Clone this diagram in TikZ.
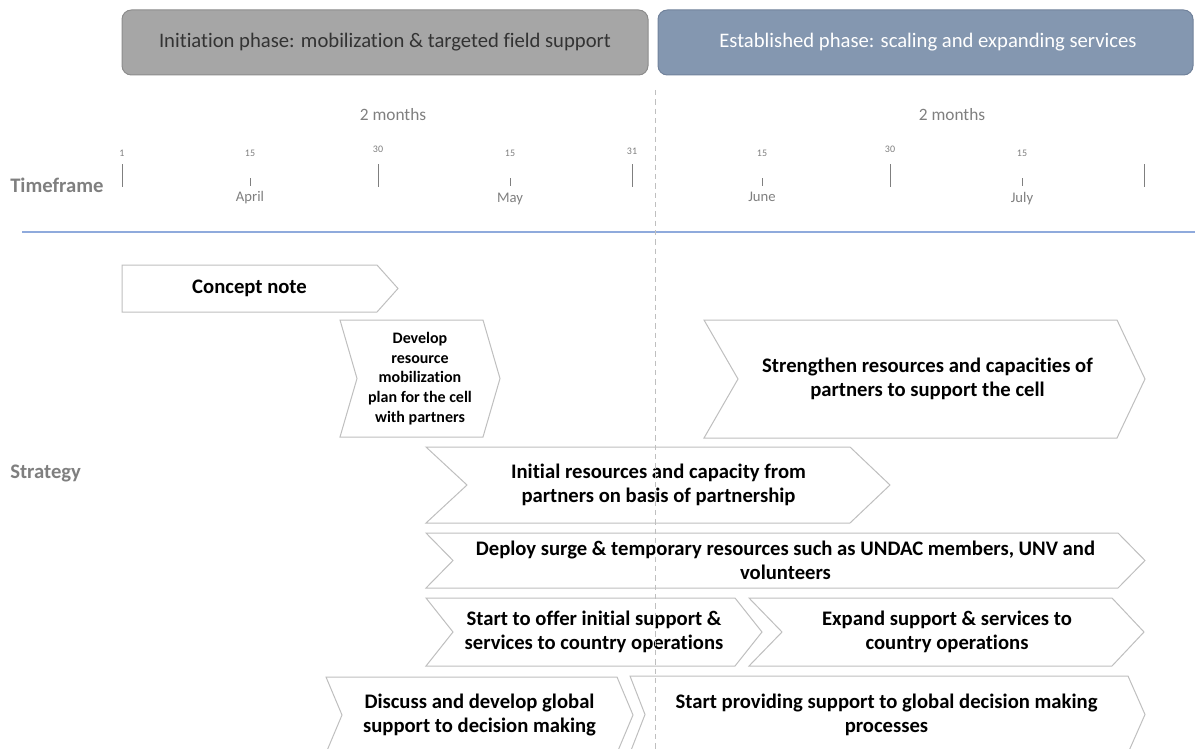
\documentclass[tikz,border=0pt]{standalone}
\usepackage{fontspec}
\setmainfont{Carlito}[Ligatures=NoCommon]
\usetikzlibrary{positioning}

\definecolor{initfill}{HTML}{A6A6A6}
\definecolor{initline}{HTML}{8C8C8C}
\definecolor{estfill}{HTML}{8497B0}
\definecolor{estline}{HTML}{71829B}
\definecolor{labelgray}{HTML}{7F7F7F}
\definecolor{chevline}{HTML}{BFBFBF}
\definecolor{axisblue}{HTML}{8FAADC}

\tikzset{
phase/.style={rounded corners=7pt, line width=0.75pt},
phasetext/.style={font=\fontsize{15.5}{18}\selectfont},
rowlabel/.style={font=\bfseries\fontsize{15.5}{18}\selectfont, text=labelgray, anchor=west, inner sep=0pt},
spanlabel/.style={font=\fontsize{13}{15}\selectfont, text=labelgray},
daylabel/.style={font=\fontsize{7.5}{9}\selectfont, text=labelgray, inner sep=1pt},
monthlabel/.style={font=\fontsize{11}{13}\selectfont, text=labelgray, inner sep=1pt},
daytick/.style={draw=labelgray, line width=0.6pt},
axisline/.style={draw=axisblue, line width=1.1pt},
phasesplit/.style={draw=chevline, line width=0.75pt, dash pattern=on 4pt off 3pt},
chev/.style={draw=chevline, fill=white, line width=0.75pt, line join=miter},
chevtext/.style={font=\bfseries\fontsize{15.5}{18}\selectfont, align=center, inner sep=0pt}
}

% chevron: [text style], name, left x, notch, right x, tip x, top y, bottom y, text
\newcommand{\chevronbox}[9][]{%
\draw[chev] (#3,#7) -- (#5,#7) -- (#6,{(#7+#8)/2}) -- (#5,#8) -- (#3,#8) -- ({#3+#4},{(#7+#8)/2}) -- cycle;
\node[chevtext,#1] (#2) at ({(#3+#4+#5)/2},{(#7+#8)/2}) {#9};}

\begin{document}
\begin{tikzpicture}[x=0.75pt,y=-0.75pt]
\useasboundingbox (0,0) rectangle (1195,749);

% phases
\draw[phase, fill=initfill, draw=initline] (122,10) rectangle (648,75);
\node[phasetext, text=black!80] (initphase) at (385,42) {Initiation phase: mobilization \& targeted field support};
\draw[phase, fill=estfill, draw=estline] (658,10) rectangle (1193,75);
\node[phasetext, text=white] (estphase) at (928,42) {Established phase: scaling and expanding services};

\node[spanlabel] (span1) at (393,115) {2 months};
\node[spanlabel] (span2) at (952,115) {2 months};

% timeline
\node[rowlabel] (timeframe) at (10,185) {Timeframe};
\foreach \x in {122,378,632,890,1144}
  \draw[daytick] (\x,164) -- (\x,187);
\foreach \x in {250,510,762,1022}
  \draw[daytick] (\x,178) -- (\x,186);
\node[daylabel] (d1) at (122,153) {1};
\node[daylabel] (d15a) at (250,153) {15};
\node[daylabel] (d30a) at (378,149) {30};
\node[daylabel] (d15b) at (510,153) {15};
\node[daylabel] (d31) at (632,151) {31};
\node[daylabel] (d15c) at (762,153) {15};
\node[daylabel] (d30b) at (890,149) {30};
\node[daylabel] (d15d) at (1022,153) {15};
\coordinate (m1) at (250,186);
\coordinate (m2) at (510,187);
\coordinate (m3) at (762,186);
\coordinate (m4) at (1022,187);
\node[monthlabel, below=3pt of m1] (april) {April};
\node[monthlabel, below=3pt of m2] (may) {May};
\node[monthlabel, below=3pt of m3] (june) {June};
\node[monthlabel, below=3pt of m4] (july) {July};
\draw[axisline] (22,232) -- (1195,232);

% strategy
\node[rowlabel] (strategy) at (10,473) {Strategy};
\chevronbox{concept}{122}{0}{377}{398}{265}{312}{Concept note}
\chevronbox[font=\bfseries\fontsize{12}{14.8}\selectfont]{devplan}{340}{17}{483}{500}{320}{437}{Develop\\resource\\mobilization\\plan for the cell\\with partners}
\chevronbox{strengthen}{704}{34}{1117}{1145}{320}{438}{Strengthen resources and capacities of\\partners to support the cell}
\chevronbox{initial}{426}{41}{850}{890}{447}{523}{Initial resources and capacity from\\partners on basis of partnership}
\chevronbox{deploy}{426}{27}{1118}{1145}{533}{588}{Deploy surge \& temporary resources such as UNDAC members, UNV and\\volunteers}
\chevronbox{offer}{426}{27}{735}{762}{598}{666}{Start to offer initial support \&\\services to country operations}
\chevronbox{expand}{749}{33}{1112}{1144}{598}{666}{Expand support \& services to\\country operations}
\chevronbox{discuss}{326}{16}{617}{633}{677}{753}{Discuss and develop global\\support to decision making}
\chevronbox{providing}{630}{15}{1128}{1145}{676}{753}{Start providing support to global decision making\\processes}

% phase boundary
\coordinate (splittop) at (655,90);
\coordinate (splitbot) at (655,749);
\draw[phasesplit] (splittop) -- (splitbot);
\end{tikzpicture}
\end{document}
